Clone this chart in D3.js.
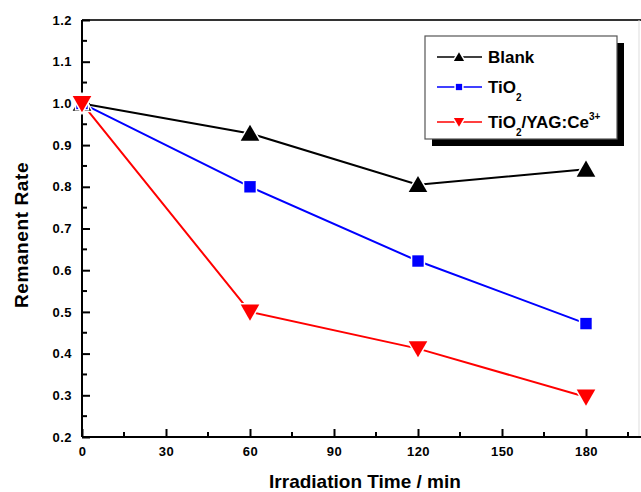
<!DOCTYPE html>
<html>
<head>
<meta charset="utf-8">
<script src="https://cdn.jsdelivr.net/npm/d3@7"></script>
<style>
  body { margin: 0; background: #fff; }
  text { font-family: Arial, "Liberation Sans", sans-serif; font-weight: bold; }
</style>
</head>
<body>
<svg id="chart" width="641" height="492"></svg>
<script>
var times = [0, 60, 120, 180];
var blank = [1.0, 0.928, 0.805, 0.842];
var tio2 = [1.0, 0.80, 0.622, 0.472];
var tio2yag = [1.0, 0.50, 0.412, 0.296];
var xTicks = [0, 30, 60, 90, 120, 150, 180];
var yTicks = [0.2, 0.3, 0.4, 0.5, 0.6, 0.7, 0.8, 0.9, 1.0, 1.1, 1.2];

var series = [
  {name: "Blank", values: blank, color: "#000000", shape: "up"},
  {name: "TiO2", values: tio2, color: "#0000ff", shape: "square"},
  {name: "TiO2/YAG", values: tio2yag, color: "#ff0000", shape: "down"}
];

var svg = d3.select("#chart"),
    margin = {top: 20, left: 82, bottom: 55},
    height = 492 - margin.top - margin.bottom;

var x = d3.scaleLinear().domain([0, 200]).range([margin.left, margin.left + 560]);
var y = d3.scaleLinear().domain([0.2, 1.2]).range([margin.top + height, margin.top]);

// frame: top line and right line
svg.append("line")
    .attr("x1", x(0)).attr("x2", 641)
    .attr("y1", y(1.2)).attr("y2", y(1.2))
    .attr("stroke", "#333").attr("stroke-width", 2);
svg.append("line")
    .attr("x1", 639).attr("x2", 639)
    .attr("y1", y(1.2)).attr("y2", y(0.2))
    .attr("stroke", "#ddd").attr("stroke-width", 1);

// x axis
var xAxis = svg.append("g")
    .attr("transform", "translate(0," + y(0.2) + ")")
    .call(d3.axisBottom(x).tickValues(xTicks).tickSize(-8).tickPadding(10).tickFormat(d3.format("d")));
xAxis.select(".domain").attr("stroke-width", 2).attr("d", "M" + x(0) + ",0H641");
xAxis.selectAll(".tick line").attr("stroke-width", 2);
xAxis.selectAll(".tick text").attr("font-size", 13).attr("letter-spacing", 0.5)
    .style("font-family", "Arial, 'Liberation Sans', sans-serif").style("font-weight", "bold");
svg.append("g")
    .attr("transform", "translate(0," + y(0.2) + ")")
    .selectAll("line")
    .data(d3.range(15, 200, 30))
    .enter().append("line")
      .attr("x1", function(d) { return x(d); })
      .attr("x2", function(d) { return x(d); })
      .attr("y1", 0).attr("y2", -5)
      .attr("stroke", "#000").attr("stroke-width", 2);

// y axis
var yAxis = svg.append("g")
    .attr("transform", "translate(" + x(0) + ",0)")
    .call(d3.axisLeft(y).tickValues(yTicks).tickSize(-8).tickPadding(10).tickFormat(d3.format(".1f")));
yAxis.select(".domain").attr("stroke-width", 2).attr("d", "M0," + y(1.2) + "V" + y(0.2));
yAxis.selectAll(".tick line").attr("stroke-width", 2);
yAxis.selectAll(".tick text").attr("font-size", 13).attr("letter-spacing", 0.5)
    .style("font-family", "Arial, 'Liberation Sans', sans-serif").style("font-weight", "bold");
svg.append("g")
    .attr("transform", "translate(" + x(0) + ",0)")
    .selectAll("line")
    .data(d3.range(0.25, 1.2, 0.1))
    .enter().append("line")
      .attr("x1", 0).attr("x2", 5)
      .attr("y1", function(d) { return y(d); })
      .attr("y2", function(d) { return y(d); })
      .attr("stroke", "#000").attr("stroke-width", 2);

// axis titles
svg.append("text")
    .attr("x", 365).attr("y", 488)
    .attr("text-anchor", "middle")
    .attr("font-size", 19)
    .text("Irradiation Time / min");
svg.append("text")
    .attr("transform", "translate(28,235) rotate(-90)")
    .attr("text-anchor", "middle")
    .attr("font-size", 19)
    .attr("letter-spacing", 0.6)
    .text("Remanent Rate");

var line = d3.line()
    .x(function(d, i) { return x(times[i]); })
    .y(function(d) { return y(d); });

var tri = d3.symbol().type(d3.symbolTriangle).size(150);
var sq = d3.symbol().type(d3.symbolSquare).size(130);

function drawMarker(sel, s, cx, cy, scale) {
  var p;
  if (s.shape === "square") p = sq();
  else p = tri();
  var rot = s.shape === "down" ? " rotate(180)" : "";
  var dy = s.shape === "up" ? 2 : (s.shape === "down" ? -2 : 0);
  sel.append("path")
    .attr("d", p)
    .attr("transform", "translate(" + cx + "," + (cy + dy * scale) + ")" + rot + " scale(" + scale + ")")
    .attr("fill", s.color)
    .attr("stroke", "#fff")
    .attr("stroke-width", 3 / scale)
    .attr("paint-order", "stroke");
}

series.forEach(function(s) {
  svg.append("path")
    .datum(s.values)
    .attr("d", line)
    .attr("fill", "none")
    .attr("stroke", s.color)
    .attr("stroke-width", 2);
});
series.forEach(function(s) {
  s.values.forEach(function(v, i) {
    drawMarker(svg, s, x(times[i]), y(v), 1);
  });
});

// legend
var lg = svg.append("g").attr("transform", "translate(425,36)");
lg.append("rect").attr("x", 7).attr("y", 7).attr("width", 192).attr("height", 103).attr("fill", "#000");
lg.append("rect").attr("width", 192).attr("height", 103).attr("fill", "#fff").attr("stroke", "#555").attr("stroke-width", 1.2);

var rows = [21, 51, 86];
series.forEach(function(s, i) {
  var g = lg.append("g").attr("transform", "translate(0," + rows[i] + ")");
  g.append("line").attr("x1", 12).attr("x2", 57).attr("y1", 0).attr("y2", 0)
    .attr("stroke", s.color).attr("stroke-width", 1.5);
  drawMarker(g, s, 34, 0, 0.55);
  var t = g.append("text").attr("x", 63).attr("y", 6).attr("font-size", 17);
  if (i === 0) t.text("Blank");
  else {
    t.append("tspan").text("TiO");
    t.append("tspan").attr("font-size", 10).attr("dy", 8).text("2");
    if (i === 2) {
      t.append("tspan").attr("dy", -8).text("/YAG:Ce");
      t.append("tspan").attr("font-size", 10).attr("dy", -8).text("3+");
    }
  }
});
</script>
</body>
</html>
